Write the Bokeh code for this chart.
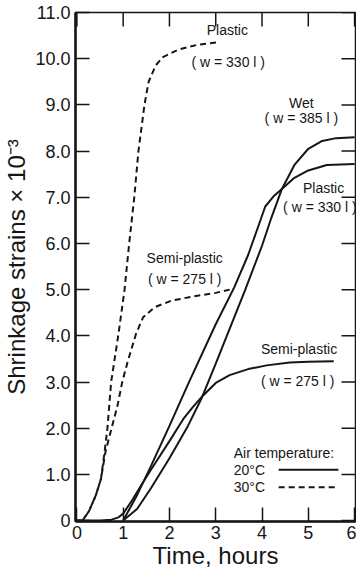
import math
from bokeh.plotting import figure
from bokeh.models import FixedTicker, Range1d, ColumnDataSource
from bokeh.embed import file_html
from bokeh.resources import INLINE
from bokeh.core.properties import value

# ---------------- data (time in hours, strain x 10^-3) ----------------
# 20 C, semi-plastic (w = 275 l)
t_semi20 = [0.0, 0.5, 0.75, 0.9, 1.0, 1.2, 1.4, 1.6, 2.0, 2.3, 2.5, 2.7, 3.0, 3.3, 3.7, 4.1, 4.6, 5.0, 5.55]
s_semi20 = [0.0, 0.0, 0.02, 0.07, 0.15, 0.45, 0.78, 1.1, 1.72, 2.2, 2.45, 2.68, 2.98, 3.15, 3.28, 3.36, 3.42, 3.44, 3.45]
# 20 C, plastic (w = 330 l)
t_plas20 = [1.0, 1.3, 1.6, 2.0, 2.2, 2.4, 3.0, 3.4, 3.7, 3.93, 4.07, 4.25, 4.43, 4.7, 5.0, 5.4, 6.0]
s_plas20 = [0.0, 0.55, 1.18, 2.05, 2.5, 2.95, 4.25, 5.05, 5.75, 6.4, 6.8, 7.02, 7.18, 7.42, 7.58, 7.7, 7.72]
# 20 C, wet (w = 385 l)
t_wet20 = [1.0, 1.3, 1.6, 2.0, 2.4, 2.7, 3.0, 3.3, 3.63, 4.0, 4.2, 4.43, 4.7, 5.0, 5.3, 5.6, 6.0]
s_wet20 = [0.0, 0.25, 0.7, 1.35, 2.05, 2.66, 3.4, 4.15, 4.98, 5.95, 6.55, 7.18, 7.7, 8.05, 8.22, 8.28, 8.3]
# 30 C, plastic (w = 330 l)
t_plas30 = [0.0, 0.12, 0.26, 0.41, 0.52, 0.6, 0.66, 0.74, 0.9, 1.03, 1.13, 1.24, 1.33, 1.46, 1.55, 1.7, 1.85, 2.2, 2.6, 3.02]
s_plas30 = [0.0, 0.0, 0.2, 0.55, 0.9, 1.5, 2.0, 3.0, 4.05, 5.0, 6.0, 7.0, 8.0, 9.0, 9.5, 9.85, 10.03, 10.2, 10.3, 10.35]
# 30 C, semi-plastic (w = 275 l)
t_semi30 = [0.12, 0.26, 0.41, 0.52, 0.62, 0.75, 0.88, 0.98, 1.1, 1.28, 1.43, 1.68, 2.04, 2.5, 3.0, 3.39]
s_semi30 = [0.0, 0.2, 0.55, 0.9, 1.5, 2.0, 2.5, 3.0, 3.45, 4.05, 4.4, 4.62, 4.76, 4.85, 4.93, 5.02]

x_ticks = [0, 1, 2, 3, 4, 5, 6]
x_tick_labels = ["0", "1", "2", "3", "4", "5", "6"]
y_ticks = [0, 1, 2, 3, 4, 5, 6, 7, 8, 9, 10, 11]
y_tick_labels = ["0", "1.0", "2.0", "3.0", "4.0", "5.0", "6.0", "7.0", "8.0", "9.0", "10.0", "11.0"]

# curve annotations
ann_x = [3.25, 3.27, 4.85, 4.85, 5.33, 5.25, 2.33, 2.33, 4.8, 4.77]
ann_y = [10.62, 9.92, 9.03, 8.72, 7.2, 6.78, 5.69, 5.24, 3.72, 3.03]
ann_text = ["Plastic", "( w = 330 l )", "Wet", "( w = 385 l )", "Plastic", "( w = 330 l )",
            "Semi-plastic", "( w = 275 l )", "Semi-plastic", "( w = 275 l )"]

# legend
legend_title = "Air temperature:"
legend_labels = ["20°C", "30°C"]
legend_label_x = 3.39
legend_title_y = 1.47
legend_y = [1.1, 0.72]
legend_line_x = [4.36, 5.65]

FONT = "Liberation Sans"
INK = "#161616"

p = figure(width=356, height=576,
           x_range=Range1d(-0.03, 6.02), y_range=Range1d(-0.02, 11.0),
           output_backend="svg", toolbar_location=None,
           min_border_left=75, min_border_right=1, min_border_top=12, min_border_bottom=55)
p.outline_line_color = INK
p.outline_line_width = 1.5
p.xgrid.visible = False
p.ygrid.visible = False
p.background_fill_color = "white"
p.border_fill_color = "white"

lw = 2.0
p.line(t_semi20, s_semi20, line_color=INK, line_width=lw)
p.line(t_plas20, s_plas20, line_color=INK, line_width=lw)
p.line(t_wet20, s_wet20, line_color=INK, line_width=lw)
p.line(t_plas30, s_plas30, line_color=INK, line_width=lw, line_dash="6 4")
p.line(t_semi30, s_semi30, line_color=INK, line_width=lw, line_dash="6 4")

# annotations
ann_src = ColumnDataSource(dict(x=ann_x, y=ann_y, text=ann_text))
p.text(x="x", y="y", text="text", source=ann_src, text_font=value(FONT),
       text_font_size=value("14px"), text_align="center", text_baseline="middle", text_color=INK)

# legend (drawn manually: label left, sample line right)
p.text(x=[legend_label_x], y=[legend_title_y], text=[legend_title], text_font=value(FONT),
       text_font_size=value("14px"), text_align="left", text_baseline="middle", text_color=INK)
p.text(x=[legend_label_x, legend_label_x], y=legend_y, text=legend_labels, text_font=value(FONT),
       text_font_size=value("14px"), text_align="left", text_baseline="middle", text_color=INK)
p.line(legend_line_x, [legend_y[0], legend_y[0]], line_color=INK, line_width=lw)
p.line(legend_line_x, [legend_y[1], legend_y[1]], line_color=INK, line_width=lw, line_dash="6 4")

# inward ticks on top and right edges of the frame
y_top = p.y_range.end
x_right = p.x_range.end
p.ray(x=x_ticks, y=[y_top] * len(x_ticks), length=14, length_units="screen",
      angle=-math.pi / 2, line_color=INK, line_width=1.5)
p.ray(x=[x_right] * len(y_ticks), y=y_ticks, length=14, length_units="screen",
      angle=math.pi, line_color=INK, line_width=1.5)

# axes
def style(ax, labels, ticks):
    ax.ticker = FixedTicker(ticks=ticks)
    ax.major_label_overrides = {t: l for t, l in zip(ticks, labels)}
    ax.major_tick_in = 14
    ax.major_tick_out = 0
    ax.minor_tick_in = 0
    ax.minor_tick_out = 0
    ax.axis_line_width = 2.5
    ax.axis_line_color = INK
    ax.major_tick_line_color = INK
    ax.major_tick_line_width = 1.5
    ax.major_label_text_font = FONT
    ax.major_label_text_color = INK
    ax.major_label_text_font_size = "18px"
    ax.axis_label_text_font = FONT
    ax.axis_label_text_font_size = "24px"
    ax.axis_label_text_font_style = "normal"
    ax.axis_label_text_color = INK

xa = p.xaxis[0]
style(xa, x_tick_labels, x_ticks)
xa.major_label_standoff = 4
xa.axis_label = "Time, hours"
xa.axis_label_standoff = 0

ya = p.yaxis[0]
style(ya, y_tick_labels, y_ticks)
ya.major_label_standoff = 5
ya.axis_label = "Shrinkage strains × 10⁻³"
ya.axis_label_standoff = 2

open("out.html", "w").write(file_html(p, INLINE))
